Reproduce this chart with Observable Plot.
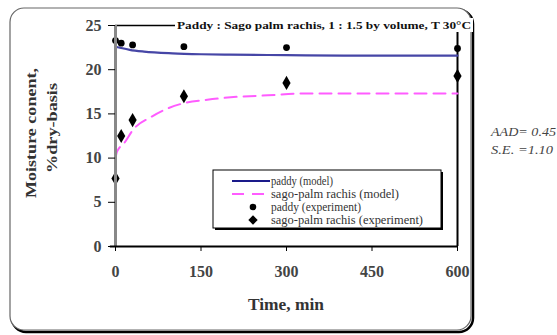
<!DOCTYPE html>
<html>
<head>
<meta charset="utf-8">
<script src="https://cdn.jsdelivr.net/npm/d3@7"></script>
<script src="https://cdn.jsdelivr.net/npm/@observablehq/plot@0.6"></script>
<style>
  html, body { margin: 0; padding: 0; background: #fff; }
  #chart { width: 557px; height: 335px; overflow: hidden; }
</style>
</head>
<body>
<div id="chart"></div>
<script>
// Experimental data
const timeExp = [0, 10, 30, 120, 300, 600];
const paddyExp = [23.3, 23.0, 22.8, 22.6, 22.5, 22.4];
const sagoExp = [7.7, 12.5, 14.3, 17.0, 18.5, 19.3];
// Model curves
const timePaddyModel = [0, 10, 25, 50, 100, 150, 200, 300, 400, 500, 600];
const paddyModel = [22.6, 22.45, 22.25, 22.05, 21.85, 21.75, 21.7, 21.65, 21.6, 21.6, 21.6];
const timeSagoModel = [0, 2, 5, 14, 32, 61, 91, 119, 161, 207, 267, 330, 450, 600];
const sagoModel = [10.0, 10.6, 11.0, 11.6, 13.3, 14.6, 15.6, 16.2, 16.6, 16.9, 17.1, 17.3, 17.3, 17.3];
// Axis ticks
const xTicks = [0, 150, 300, 450, 600];
const yTicks = [0, 5, 10, 15, 20, 25];
// Texts
const titleText = "Paddy : Sago palm rachis, 1 : 1.5 by volume, T 30°C";
const xLabel = "Time, min";
const yLabel1 = "Moisture conent,";
const yLabel2 = "%dry-basis";
const legendLabels = ["paddy (model)", "sago-palm rachis (model)", "paddy (experiment)", "sago-palm rachis (experiment)"];
const statsLines = ["AAD= 0.45", "S.E. =1.10"];

const exp = timeExp.map((t, i) => ({t, paddy: paddyExp[i], sago: sagoExp[i]}));
const pm = timePaddyModel.map((t, i) => ({t, v: paddyModel[i]}));
const sm = timeSagoModel.map((t, i) => ({t, v: sagoModel[i]}));

const FONT = "Liberation Serif, Times New Roman, serif";
const PADDY = "#4646a6";
const SAGO = "#ff5cff";

const chart = Plot.plot({
  width: 557, height: 335,
  marginLeft: 115, marginRight: 100, marginTop: 25, marginBottom: 89,
  x: {domain: [0, 600]},
  y: {domain: [0, 25]},
  style: {fontFamily: FONT, background: "transparent", overflow: "visible"},
  marks: [
    Plot.ruleY([25], {x1: 0, x2: 600, stroke: "#000", strokeWidth: 1.5}),
    Plot.ruleX([600], {y1: 0, y2: 25, stroke: "#000", strokeWidth: 2}),
    Plot.line(sm, {x: "t", y: "v", stroke: SAGO, strokeWidth: 2, strokeDasharray: "12,7", curve: "monotone-x"}),
    Plot.line(pm, {x: "t", y: "v", stroke: PADDY, strokeWidth: 2.2, curve: "monotone-x"}),
    Plot.dot(exp, {x: "t", y: "paddy", r: 3.4, fill: "#000", stroke: "none"}),
    Plot.dot(exp, {x: "t", y: "sago", r: 4.3, symbol: "diamond", fill: "#000", stroke: "none"}),
    Plot.ruleX([0], {y1: 0, y2: 25, stroke: "#888", strokeWidth: 3}),
    Plot.ruleY([0], {x1: -9, x2: 600, stroke: "#000", strokeWidth: 2}),
    Plot.axisY({ticks: yTicks, tickSize: 7, tickPadding: 7, fontSize: 16, fontWeight: "bold", fill: "#444", stroke: "#000", label: null}),
    Plot.axisX({ticks: xTicks, tickSize: 5, tickPadding: 14, fontSize: 16, fontWeight: "bold", fill: "#444", stroke: "#000", label: null})
  ]
});

document.getElementById("chart").appendChild(chart);
const svg = d3.select(chart);

// Outer rounded frame with shadow (drawn beneath everything)
const fr = {x: 10, y: 8, w: 461, h: 322, r: 14};
svg.insert("rect", ":first-child")
  .attr("x", fr.x).attr("y", fr.y).attr("width", fr.w).attr("height", fr.h).attr("rx", fr.r)
  .attr("fill", "#fff").attr("stroke", "#666").attr("stroke-width", 1.2);
svg.insert("rect", ":first-child")
  .attr("x", fr.x + 2).attr("y", fr.y + 2).attr("width", fr.w).attr("height", fr.h).attr("rx", fr.r)
  .attr("fill", "none").attr("stroke", "#000").attr("stroke-width", 2.5);

function txt(sel, x, y, s, size, opts = {}) {
  const t = sel.append("text").attr("x", x).attr("y", y)
    .attr("font-family", FONT).attr("font-size", size)
    .attr("text-anchor", opts.anchor || "start")
    .attr("font-weight", opts.weight || "normal")
    .attr("font-style", opts.style || "normal")
    .attr("fill", opts.fill || "#333")
    .text(s);
  if (opts.len) t.attr("textLength", opts.len).attr("lengthAdjust", "spacingAndGlyphs");
  if (opts.transform) t.attr("transform", opts.transform);
  return t;
}

// Title on top border
const tg = svg.append("g");
tg.append("rect").attr("x", 175).attr("y", 18).attr("width", 298).attr("height", 14).attr("fill", "#fff");
txt(tg, 177, 29, titleText, 11, {weight: "bold", fill: "#111", len: 294});

// Axis labels
txt(svg, 286, 310, xLabel, 16, {anchor: "middle", weight: "bold", len: 76});
txt(svg, 0, 0, yLabel1, 15, {anchor: "middle", weight: "bold", len: 130, transform: "translate(36,133) rotate(-90)"});
txt(svg, 0, 0, yLabel2, 15, {anchor: "middle", weight: "bold", len: 90, transform: "translate(57,128) rotate(-90)"});

// Legend
const lg = svg.append("g");
lg.append("rect").attr("x", 215).attr("y", 172).attr("width", 228).attr("height", 58).attr("fill", "#000");
lg.append("rect").attr("x", 213).attr("y", 170).attr("width", 228).attr("height", 58)
  .attr("fill", "#fff").attr("stroke", "#000").attr("stroke-width", 1);
const rows = [181, 194, 207, 220];
lg.append("line").attr("x1", 232).attr("x2", 270).attr("y1", rows[0]).attr("y2", rows[0])
  .attr("stroke", "#1a1a8a").attr("stroke-width", 2);
lg.append("line").attr("x1", 232).attr("x2", 270).attr("y1", rows[1]).attr("y2", rows[1])
  .attr("stroke", SAGO).attr("stroke-width", 2).attr("stroke-dasharray", "12,8");
lg.append("circle").attr("cx", 253).attr("cy", rows[2]).attr("r", 3.3).attr("fill", "#000");
lg.append("path").attr("transform", `translate(253,${rows[3]})`).attr("d", d3.symbol(d3.symbolDiamond2, 56)()).attr("fill", "#000");
const legendLens = [62, 128, 90, 152];
legendLabels.forEach((s, i) => txt(lg, 271, rows[i] + 4, s, 12, {fill: "#333", len: legendLens[i]}));

// Stats text at the right
const statsLens = [65, 62];
statsLines.forEach((s, i) => txt(svg, 491, 136 + i * 18, s, 12, {style: "italic", fill: "#444", len: statsLens[i]}));
</script>
</body>
</html>
